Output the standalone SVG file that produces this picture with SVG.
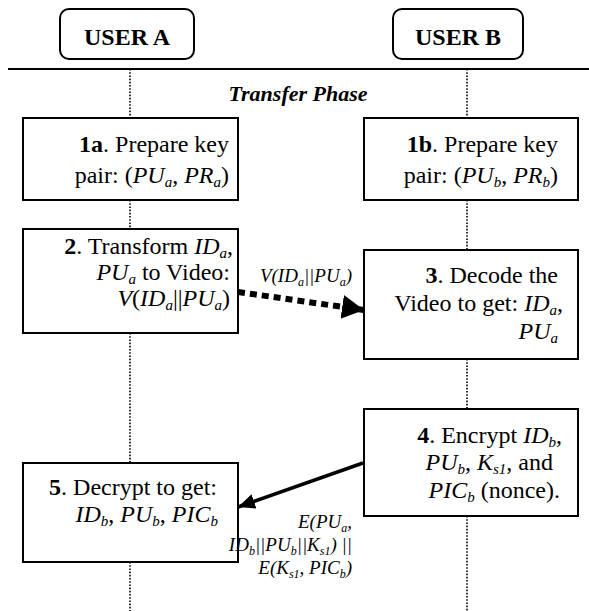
<svg xmlns="http://www.w3.org/2000/svg" width="589" height="611" viewBox="0 0 589 611">
<style>
  text { font-family: 'Liberation Serif', 'Times New Roman', serif; }
  .box { fill: #fff; stroke: #000; stroke-width: 2; }
  .life { stroke: #000; stroke-width: 1.6; stroke-dasharray: 1.6 1.6; fill: none; }
  .t { font-size: 24px; fill: #000; text-anchor: end; }
  .h { font-size: 24px; font-weight: bold; fill: #000; text-anchor: middle; }
  .lbl { font-size: 19px; font-style: italic; fill: #000; text-anchor: end; }
  .i { font-style: italic; }
  .b { font-weight: bold; }
  .s { font-size: 15px; }
  .ls { font-size: 12px; }
</style>
<defs>
  <marker id="headDot" markerUnits="userSpaceOnUse" markerWidth="24" markerHeight="26" refX="22" refY="12" orient="auto">
    <path d="M0,0 L22,12 L0,24 Z" fill="#000"/>
  </marker>
  <marker id="headSolid" markerUnits="userSpaceOnUse" markerWidth="20" markerHeight="16" refX="17" refY="7.5" orient="auto">
    <path d="M0,0 L17,7.5 L0,15 Z" fill="#000"/>
  </marker>
</defs>

<line x1="8" y1="69" x2="589" y2="69" stroke="#000" stroke-width="2"/>

<g id="lifelines">
  <path class="life" d="M130,69 V118 M130,200 V229 M130,333 V463 M130,562 V611"/>
  <path class="life" d="M467,69 V118 M467,200 V250 M467,359 V409 M467,516 V611"/>
</g>

<g id="userA">
  <rect x="60" y="9" width="134" height="50" rx="9" class="box"/>
  <text x="127" y="45" class="h">USER A</text>
</g>
<g id="userB">
  <rect x="393" y="9" width="130" height="50" rx="9" class="box"/>
  <text x="458" y="45" class="h">USER B</text>
</g>

<text x="298" y="101" font-size="22" font-weight="bold" font-style="italic" text-anchor="middle">Transfer Phase</text>

<g id="n1a">
  <rect x="23" y="118" width="215" height="82" class="box"/>
  <text x="229" y="152" class="t"><tspan class="b">1a</tspan>. Prepare key</text>
  <text x="229" y="183" class="t">pair: (<tspan class="i">PU</tspan><tspan class="i s" dy="4">a</tspan><tspan dy="-4">, </tspan><tspan class="i">PR</tspan><tspan class="i s" dy="4">a</tspan><tspan dy="-4">)</tspan></text>
</g>

<g id="n1b">
  <rect x="364" y="118" width="214" height="82" class="box"/>
  <text x="558" y="152" class="t"><tspan class="b">1b</tspan>. Prepare key</text>
  <text x="558" y="183" class="t">pair: (<tspan class="i">PU</tspan><tspan class="i s" dy="4">b</tspan><tspan dy="-4">, </tspan><tspan class="i">PR</tspan><tspan class="i s" dy="4">b</tspan><tspan dy="-4">)</tspan></text>
</g>

<g id="n2">
  <rect x="23" y="229" width="215" height="104" class="box"/>
  <text x="233" y="254" class="t"><tspan class="b">2</tspan>. Transform <tspan class="i">ID</tspan><tspan class="i s" dy="4">a</tspan><tspan dy="-4">,</tspan></text>
  <text x="230" y="280" class="t"><tspan class="i">PU</tspan><tspan class="i s" dy="4">a</tspan><tspan dy="-4"> to Video:</tspan></text>
  <text x="230" y="306" class="t"><tspan class="i">V</tspan>(<tspan class="i">ID</tspan><tspan class="i s" dy="4">a</tspan><tspan dy="-4">||</tspan><tspan class="i">PU</tspan><tspan class="i s" dy="4">a</tspan><tspan dy="-4">)</tspan></text>
</g>

<g id="n3">
  <rect x="364" y="250" width="214" height="109" class="box"/>
  <text x="558" y="283" class="t"><tspan class="b">3</tspan>. Decode the</text>
  <text x="563" y="311" class="t">Video to get: <tspan class="i">ID</tspan><tspan class="i s" dy="4">a</tspan><tspan dy="-4">,</tspan></text>
  <text x="558" y="339" class="t"><tspan class="i">PU</tspan><tspan class="i s" dy="4">a</tspan></text>
</g>

<g id="n4">
  <rect x="364" y="409" width="214" height="107" class="box"/>
  <text x="562" y="443" class="t"><tspan class="b">4</tspan>. Encrypt <tspan class="i">ID</tspan><tspan class="i s" dy="4">b</tspan><tspan dy="-4">,</tspan></text>
  <text x="553" y="470" class="t"><tspan class="i">PU</tspan><tspan class="i s" dy="4">b</tspan><tspan dy="-4">, </tspan><tspan class="i">K</tspan><tspan class="i s" dy="4">s1</tspan><tspan dy="-4">, and</tspan></text>
  <text x="560" y="498" class="t"><tspan class="i">PIC</tspan><tspan class="i s" dy="4">b</tspan><tspan dy="-4"> (nonce).</tspan></text>
</g>

<g id="n5">
  <rect x="23" y="463" width="215" height="99" class="box"/>
  <text x="217" y="495" class="t"><tspan class="b">5</tspan>. Decrypt to get:</text>
  <text x="218" y="522" class="t"><tspan class="i">ID</tspan><tspan class="i s" dy="4">b</tspan><tspan dy="-4">, </tspan><tspan class="i">PU</tspan><tspan class="i s" dy="4">b</tspan><tspan dy="-4">, </tspan><tspan class="i">PIC</tspan><tspan class="i s" dy="4">b</tspan></text>
</g>

<g id="connectors">
  <line x1="238" y1="292" x2="364" y2="310" stroke="#000" stroke-width="6" stroke-dasharray="7 5" marker-end="url(#headDot)"/>
  <line x1="363" y1="463" x2="238" y2="507" stroke="#000" stroke-width="3.5" marker-end="url(#headSolid)"/>
  <text x="352" y="282" class="lbl">V(ID<tspan class="ls" dy="4">a</tspan><tspan dy="-4">||PU</tspan><tspan class="ls" dy="4">a</tspan><tspan dy="-4">)</tspan></text>
  <text x="352" y="528" class="lbl">E(PU<tspan class="ls" dy="4">a</tspan><tspan dy="-4">,</tspan></text>
  <text x="352" y="551" class="lbl">ID<tspan class="ls" dy="4">b</tspan><tspan dy="-4">||PU</tspan><tspan class="ls" dy="4">b</tspan><tspan dy="-4">||K</tspan><tspan class="ls" dy="4">s1</tspan><tspan dy="-4">) ||</tspan></text>
  <text x="352" y="574" class="lbl">E(K<tspan class="ls" dy="4">s1</tspan><tspan dy="-4">, PIC</tspan><tspan class="ls" dy="4">b</tspan><tspan dy="-4">)</tspan></text>
</g>
</svg>
